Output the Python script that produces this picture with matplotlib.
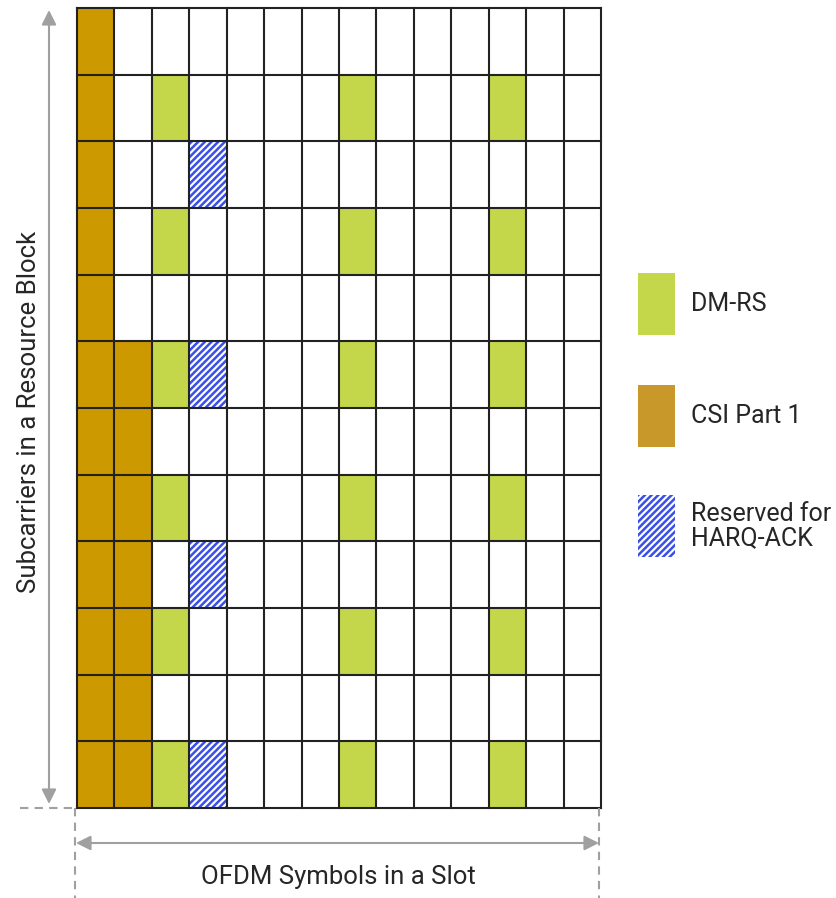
import matplotlib
matplotlib.use("Agg")
import matplotlib.pyplot as plt
from matplotlib.patches import Rectangle, FancyArrowPatch
from matplotlib.lines import Line2D

plt.rcParams['font.family'] = ['Roboto', 'DejaVu Sans']
plt.rcParams['hatch.linewidth'] = 1.8

n_symbols = 14
n_subcarriers = 12
# rows counted from top (0) to bottom (11)
csi_cells = [(0, r) for r in range(12)] + [(1, r) for r in range(5, 12)]
dmrs_cols = [2, 7, 11]
dmrs_rows = [1, 3, 5, 7, 9, 11]
harq_col = 3
harq_rows = [2, 5, 8, 11]

legend_labels = ["DM-RS", "CSI Part 1", "Reserved for\nHARQ-ACK"]
xlabel = "OFDM Symbols in a Slot"
ylabel = "Subcarriers in a Resource Block"

CSI_COLOR = "#CC9900"
DMRS_COLOR = "#C4D74B"
HATCH_COLOR = "#3A4FE8"
GRID_COLOR = "#222222"
ARROW_COLOR = "#A0A0A0"
TEXT_COLOR = "#262626"

W, H = 837, 898
fig = plt.figure(figsize=(W / 100, H / 100), dpi=100)
fig.patch.set_facecolor("white")

gx0, gx1, gy0, gy1 = 77, 601, 8, 808
ax = fig.add_axes([gx0 / W, 1 - gy1 / H, (gx1 - gx0) / W, (gy1 - gy0) / H])
ax.set_xlim(0, n_symbols)
ax.set_ylim(n_subcarriers, 0)
ax.axis("off")

for (c, r) in csi_cells:
    ax.add_patch(Rectangle((c, r), 1, 1, facecolor=CSI_COLOR, edgecolor="none", zorder=1))
for c in dmrs_cols:
    for r in dmrs_rows:
        ax.add_patch(Rectangle((c, r), 1, 1, facecolor=DMRS_COLOR, edgecolor="none", zorder=1))
for r in harq_rows:
    ax.add_patch(Rectangle((harq_col, r), 1, 1, facecolor="white", edgecolor=HATCH_COLOR,
                           hatch="/////", linewidth=0, zorder=1))

for i in range(n_symbols + 1):
    ax.plot([i, i], [0, n_subcarriers], color=GRID_COLOR, lw=1.5, zorder=3, clip_on=False)
for j in range(n_subcarriers + 1):
    ax.plot([0, n_symbols], [j, j], color=GRID_COLOR, lw=1.5, zorder=3, clip_on=False)

# overlay axes in pixel coords for annotations
ov = fig.add_axes([0, 0, 1, 1], facecolor="none")
ov.set_xlim(0, W)
ov.set_ylim(H, 0)
ov.axis("off")

# vertical arrow
ov.add_patch(FancyArrowPatch((49, 804), (49, 10), arrowstyle="<|-|>", mutation_scale=22,
                             color=ARROW_COLOR, lw=1.5, shrinkA=0, shrinkB=0))
# horizontal arrow
ov.add_patch(FancyArrowPatch((76, 843), (599, 843), arrowstyle="<|-|>", mutation_scale=22,
                             color=ARROW_COLOR, lw=1.5, shrinkA=0, shrinkB=0))
# dashed guide lines
ov.add_line(Line2D([20, 77], [808, 808], color=ARROW_COLOR, lw=1.5, ls=(0, (4, 3))))
ov.add_line(Line2D([75, 75], [808, 898], color=ARROW_COLOR, lw=1.5, ls=(0, (4, 3))))
ov.add_line(Line2D([599, 599], [808, 898], color=ARROW_COLOR, lw=1.5, ls=(0, (4, 3))))

ov.text(338, 877, xlabel, ha="center", va="center", fontsize=18.5, color=TEXT_COLOR)
ov.text(29, 412, ylabel, ha="center", va="center", fontsize=18.5, color=TEXT_COLOR, rotation=90)

# legend
leg_y = [304, 416, 526]
ov.add_patch(Rectangle((638, 273), 37, 62, facecolor=DMRS_COLOR, edgecolor="none"))
ov.add_patch(Rectangle((638, 385), 37, 62, facecolor="#C8992A", edgecolor="none"))
ov.add_patch(Rectangle((638, 495), 37, 62, facecolor="white", edgecolor=HATCH_COLOR,
                       hatch="/////", linewidth=0))
for y, lab in zip(leg_y, legend_labels):
    ov.text(691, y, lab, ha="left", va="center", fontsize=18, color=TEXT_COLOR, linespacing=1.0)

fig.savefig("out.png", dpi=100, facecolor="white")
